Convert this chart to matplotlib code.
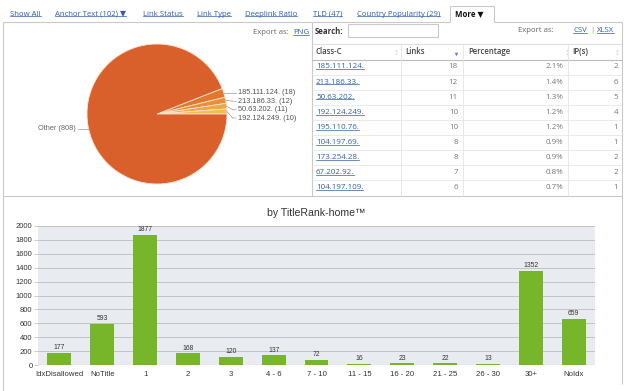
import matplotlib
matplotlib.use("Agg")
import matplotlib.pyplot as plt
import numpy as np

# ---- data ----
tab_names = ["Show All", "Anchor Text (102) \u25BC", "Link Status", "Link Type",
             "Deeplink Ratio", "TLD (47)", "Country Popularity (29)"]

pie_labels = ["185.111.124.", "213.186.33.", "50.63.202.", "192.124.249.", "Other"]
pie_values = [18, 12, 11, 10, 808]

class_c = ["185.111.124.", "213.186.33.", "50.63.202.", "192.124.249.", "195.110.76.",
           "104.197.69.", "173.254.28.", "67.202.92.", "104.197.109."]
links = [18, 12, 11, 10, 10, 8, 8, 7, 6]
percentage = [2.1, 1.4, 1.3, 1.2, 1.2, 0.9, 0.9, 0.8, 0.7]
ips = [2, 6, 5, 4, 1, 1, 2, 2, 1]

rank_cats = ["IdxDisallowed", "NoTitle", "1", "2", "3", "4 - 6", "7 - 10",
             "11 - 15", "16 - 20", "21 - 25", "26 - 30", "30+", "NoIdx"]
rank_vals = [177, 593, 1877, 168, 120, 137, 72, 16, 23, 22, 13, 1352, 659]

# ---- styling ----
W, H = 626, 391
UI = ["Open Sans", "DejaVu Sans"]
CH = ["Liberation Sans", "DejaVu Sans"]
LINK = "#2f5fa8"
BORDER = "#c9c9c9"
PIE_COLORS = ["#e2772f", "#e98f37", "#efa743", "#f4bd50", "#d95f2b"]

fig = plt.figure(figsize=(W / 100, H / 100), dpi=100)
fig.patch.set_facecolor("white")

# pixel canvas for the page chrome
bg = fig.add_axes([0, 0, 1, 1])
bg.set_xlim(0, W)
bg.set_ylim(H, 0)
bg.axis("off")

to_underline = []


def txt(x, y, s, size=5.6, color="#333333", ha="left", weight="normal",
        family=UI, underline=False):
    t = bg.text(x, y, s, fontsize=size, color=color, ha=ha, va="center",
                fontweight=weight, family=family)
    if underline:
        to_underline.append(t)
    return t


def hline(y, x0, x1, color=BORDER, lw=0.8):
    bg.plot([x0, x1], [y, y], color=color, lw=lw, solid_capstyle="butt")


def vline(x, y0, y1, color=BORDER, lw=0.8):
    bg.plot([x, x], [y0, y1], color=color, lw=lw, solid_capstyle="butt")


# tabs
tab_x = [10, 55, 143, 197, 245, 313, 357]
for x, name in zip(tab_x, tab_names):
    txt(x, 14, name, color=LINK, underline=True)
# active "More" tab
hline(6, 450, 494)
vline(450, 6, 22)
vline(494, 6, 22)
txt(455, 14, "More \u25BC", color="#111111", weight="bold")

# panel frame
hline(22, 3, 450)
hline(22, 494, 622)
vline(3, 22, 391)
vline(622, 22, 384)
vline(312, 22, 196)
hline(196, 3, 622)

# export links
txt(253, 33, "Export as:", color="#666666")
txt(293, 33, "PNG", color=LINK, underline=True)
txt(518, 31, "Export as:", color="#666666")
txt(573, 31, "CSV", color=LINK, underline=True)
txt(590, 31, "|", color="#888888")
txt(597, 31, "XLSX", color=LINK, underline=True)

# search box
txt(315, 31, "Search:", color="#333333", weight="bold")
bg.add_patch(plt.Rectangle((348, 24), 90, 13, facecolor="white",
                           edgecolor=BORDER, lw=0.8))

# table
head_y = 52
row_y0, row_h = 67, 15.1
hline(44, 312, 622, color="#dddddd")
hline(60, 312, 622, color="#bbbbbb")
txt(316, head_y, "Class-C", color="#444444", weight="semibold")
txt(405, head_y, "Links", color="#444444", weight="semibold")
txt(468, head_y, "Percentage", color="#444444", weight="semibold")
txt(572, head_y, "IP(s)", color="#444444", weight="semibold")
for sx in [396, 567, 617]:
    bg.plot(sx, head_y - 1.8, marker="^", ms=1.8, color="#d8d8d8", mec="none")
    bg.plot(sx, head_y + 1.8, marker="v", ms=1.8, color="#d8d8d8", mec="none")
bg.plot(456, head_y + 1.5, marker="v", ms=2.6, color="#6a7fc4", mec="none")
for cx in [401, 463, 568]:
    vline(cx, 44, 196, color="#e4e4e4", lw=0.6)

for i, (c, l, p, n) in enumerate(zip(class_c, links, percentage, ips)):
    y = row_y0 + i * row_h
    txt(316, y, c, size=5.8, color=LINK, underline=True)
    txt(458, y, str(l), size=5.8, color="#777777", ha="right")
    txt(563, y, f"{p:.1f}%", size=5.8, color="#777777", ha="right")
    txt(618, y, str(n), size=5.8, color="#777777", ha="right")
    if i < len(class_c) - 1:
        hline(y + row_h / 2, 312, 622, color="#e6e6e6", lw=0.6)

# ---- pie ----
cx, cy, r = 157, 114, 70
pax = fig.add_axes([(cx - r) / W, (H - cy - r) / H, 2 * r / W, 2 * r / H])
wedges, _ = pax.pie(pie_values, colors=PIE_COLORS,
                    startangle=360 * sum(pie_values[:4]) / sum(pie_values),
                    counterclock=False, radius=1,
                    wedgeprops=dict(edgecolor="#fbe3cf", linewidth=0.6))
pax.set_xlim(-1, 1)
pax.set_ylim(-1, 1)
pax.set_aspect("equal")
pax.axis("off")

# labels on the right, spread like the original
prev = None
for w, lab, v in zip(wedges[:4], pie_labels[:4], pie_values[:4]):
    mid = np.deg2rad((w.theta1 + w.theta2) / 2)
    ex, ey = np.cos(mid), np.sin(mid)
    ly = ey if prev is None else min(ey, prev - 0.12)
    prev = ly
    pax.plot([ex * 1.0, 1.08, 1.13], [ey, ly, ly], color="#999999", lw=0.5,
             clip_on=False)
    pax.text(1.15, ly, f"{lab} ({v})", fontsize=5.3, color="#555555",
             va="center", ha="left", family=CH, clip_on=False)
# "Other" label on the left
oy = -0.21
ox = -np.sqrt(1 - oy ** 2)
pax.plot([ox, -1.13], [oy, oy], color="#999999", lw=0.5, clip_on=False)
pax.text(-1.16, oy, f"{pie_labels[4]} ({pie_values[4]})", fontsize=5.3,
         color="#666666", va="center", ha="right", family=CH, clip_on=False)

# ---- bar chart ----
bl, br, bt, bb = 38, 595, 226, 365
bax = fig.add_axes([bl / W, (H - bb) / H, (br - bl) / W, (bb - bt) / H])
bax.set_facecolor("#e8ecf1")
xs = np.arange(len(rank_cats))
bax.bar(xs, rank_vals, width=0.56, color="#77b52a", zorder=3)
bax.set_xlim(-0.5, len(rank_cats) - 0.5)
bax.set_ylim(0, 2000)
bax.set_yticks(np.arange(0, 2001, 200))
bax.grid(axis="y", color="#c3c3c3", lw=0.7, zorder=1)
for s in bax.spines.values():
    s.set_visible(False)
bax.axhline(0, color="#a0a0a0", lw=0.8, zorder=4)
bax.set_xticks(xs)
bax.set_xticklabels(rank_cats, family=CH, fontsize=5.6, color="#333333")
bax.tick_params(axis="x", length=0, pad=4)
bax.tick_params(axis="y", length=3, width=0.6, color="#c3c3c3", pad=1,
                labelsize=5.5, labelcolor="#333333")
for lab in bax.get_yticklabels():
    lab.set_family(CH)
for x, v in zip(xs, rank_vals):
    bax.text(x, v + 25, str(v), ha="center", va="bottom", fontsize=4.9,
             color="#333333", family=CH, zorder=5)
bax.set_title("by TitleRank-home\u2122", fontsize=7.6, color="#333333",
              family=CH, pad=7)

# underline the link texts
fig.canvas.draw()
renderer = fig.canvas.get_renderer()
inv = bg.transData.inverted()
for t in to_underline:
    bb_ = t.get_window_extent(renderer)
    (x0, y0), (x1, y1) = inv.transform([[bb_.x0, bb_.y0], [bb_.x1, bb_.y1]])
    uy = max(y0, y1) - 1.3
    bg.plot([x0, x1], [uy, uy], color=t.get_color(), lw=0.5)

fig.savefig("out.png", dpi=100, facecolor="white")
